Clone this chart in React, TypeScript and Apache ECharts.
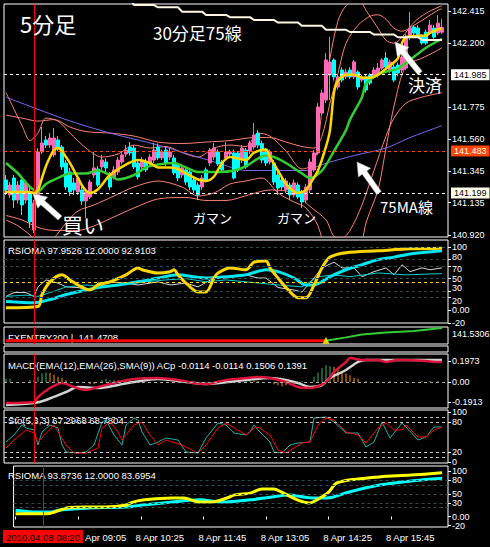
import React, { useEffect, useRef } from 'react';
import * as echarts from 'echarts';

const FONT = '"Liberation Sans", Arial, sans-serif';
const CJK = '"Noto Sans CJK JP", sans-serif';

// ---- time axis ----
const startMinutes = 7 * 60 + 45;
const barCount = 111;
const categories = Array.from({ length: barCount }, (_, i) => {
  const m = startMinutes + 5 * i;
  return `${String(Math.floor(m / 60)).padStart(2, '0')}:${String(m % 60).padStart(2, '0')}`;
});
const timeTickIdx = [16, 32, 48, 64, 80, 96];
const dateLabel = '8 Apr';
const cursorIdx = 7;
const cursorLabel = '2010.04.08 08:20';

// ---- price axis ----
const priceTicks = [142.415, 142.2, 141.775, 141.56, 141.345, 141.135, 140.92];
const bidPrice = 142.305;
const level1 = 141.985;
const level2 = 141.483;
const level3 = 141.199;

// ---- candles [open, close, low, high] ----
const candles = [
  [141.287,141.220,141.187,141.320],[141.187,141.253,141.167,141.273],[141.300,141.153,141.100,141.320],
  [141.153,141.253,141.130,141.280],[141.287,141.120,141.053,141.300],[141.153,141.267,141.130,141.287],
  [141.200,141.007,140.966,141.253],[140.953,141.133,140.933,141.153],[141.133,141.474,141.113,141.500],
  [141.474,141.534,141.460,141.641],[141.554,141.520,141.500,141.580],[141.520,141.567,141.500,141.600],
  [141.454,141.567,141.440,141.634],[141.554,141.500,141.480,141.580],[141.507,141.374,141.354,141.520],
  [141.400,141.240,141.220,141.420],[141.340,141.207,141.180,141.367],[141.267,141.220,141.187,141.300],
  [141.207,141.300,141.187,141.320],[141.220,141.147,141.120,141.240],[141.147,141.207,141.033,141.220],
  [141.173,141.273,141.160,141.290],[141.320,141.367,141.300,141.474],[141.360,141.253,141.240,141.380],
  [141.374,141.420,141.354,141.454],[141.407,141.367,141.340,141.430],[141.320,141.240,141.220,141.340],
  [141.307,141.354,141.290,141.380],[141.340,141.420,141.320,141.440],[141.407,141.454,141.390,141.480],
  [141.460,141.487,141.440,141.520],[141.507,141.467,141.450,141.540],[141.500,141.374,141.360,141.520],
  [141.400,141.307,141.290,141.420],[141.374,141.420,141.354,141.440],[141.407,141.354,141.340,141.430],
  [141.400,141.440,141.380,141.460],[141.420,141.487,141.400,141.534],[141.507,141.434,141.420,141.530],
  [141.434,141.474,141.420,141.490],[141.487,141.400,141.380,141.510],[141.440,141.474,141.420,141.500],
  [141.434,141.334,141.320,141.454],[141.387,141.300,141.280,141.400],[141.320,141.367,141.300,141.390],
  [141.354,141.273,141.253,141.370],[141.340,141.240,141.220,141.360],[141.287,141.220,141.200,141.300],
  [141.253,141.187,141.153,141.270],[141.240,141.300,141.220,141.320],[141.354,141.287,141.270,141.370],
  [141.400,141.487,141.380,141.500],[141.440,141.500,141.420,141.534],[141.474,141.394,141.380,141.490],
  [141.407,141.354,141.340,141.420],[141.434,141.474,141.420,141.540],[141.460,141.474,141.440,141.490],
  [141.467,141.300,141.290,141.490],[141.467,141.354,141.340,141.480],[141.420,141.500,141.400,141.520],
  [141.487,141.374,141.360,141.500],[141.480,141.534,141.460,141.550],[141.507,141.587,141.490,141.667],
  [141.600,141.520,141.500,141.620],[141.530,141.420,141.400,141.550],[141.487,141.400,141.380,141.500],
  [141.407,141.474,141.390,141.490],[141.400,141.273,141.253,141.420],[141.320,141.233,141.187,141.340],
  [141.287,141.240,141.220,141.300],[141.220,141.280,141.200,141.300],[141.253,141.187,141.153,141.270],
  [141.187,141.267,141.170,141.290],[141.253,141.173,141.160,141.270],[141.207,141.140,141.100,141.220],
  [141.153,141.240,141.130,141.260],[141.220,141.407,141.200,141.430],[141.354,141.467,141.340,141.487],
  [141.467,141.774,141.454,141.800],[141.734,141.867,141.720,141.890],[141.821,142.088,141.800,142.134],
  [141.988,142.075,141.821,142.241],[142.088,141.975,141.950,142.100],[141.908,141.975,141.890,141.990],
  [142.021,141.954,141.940,142.040],[141.975,142.008,141.960,142.030],[142.021,141.975,141.960,142.040],
  [141.975,142.075,141.960,142.088],[142.008,141.908,141.890,142.020],[141.954,141.975,141.940,141.990],
  [141.975,141.888,141.870,141.990],[141.988,141.934,141.920,142.000],[141.975,142.021,141.960,142.040],
  [141.988,142.034,141.970,142.068],[142.034,142.088,142.020,142.100],[142.101,142.041,142.020,142.141],
  [142.021,142.075,142.000,142.090],[142.041,141.954,141.940,142.060],[142.054,142.001,141.980,142.070],
  [142.021,142.108,142.000,142.120],[142.034,142.241,142.020,142.260],[142.241,142.301,142.220,142.408],
  [142.308,142.268,142.250,142.321],[142.301,142.255,142.240,142.320],[142.241,142.201,142.190,142.260],
  [142.274,142.201,142.190,142.290],[142.268,142.321,142.255,142.355],[142.301,142.241,142.230,142.320],
  [142.268,142.334,142.255,142.388],[142.274,142.305,142.260,142.361],
];

// ---- main panel lines [barIndex, value] ----
const maFast = [[0,141.207],[6,141.207],[7,141.200],[8,141.220],[9,141.300],[10,141.380],[11,141.440],[12,141.487],[13,141.500],[14,141.480],[15,141.440],[16,141.400],[17,141.350],[18,141.300],[19,141.250],[20,141.215],[21,141.200],[23,141.225],[26,141.320],[30,141.390],[33,141.420],[36,141.400],[38,141.370],[41,141.370],[43,141.360],[45,141.330],[48,141.290],[50,141.280],[52,141.310],[54,141.400],[56,141.440],[58,141.430],[60,141.420],[62,141.470],[65,141.490],[66,141.440],[68,141.350],[70,141.260],[71,141.230],[73,141.200],[75,141.220],[76,141.260],[78,141.350],[80,141.510],[81,141.620],[82,141.870],[83,141.950],[85,141.990],[87,141.990],[89,141.970],[91,141.970],[93,141.990],[95,142.030],[96,142.050],[98,142.100],[99,142.200],[100,142.240],[103,142.250],[105,142.250],[106,142.270],[109,142.300]];
const maMid = [[0,141.400],[3,141.330],[6,141.240],[8,141.210],[10,141.260],[13,141.300],[16,141.330],[20,141.330],[23,141.350],[26,141.320],[28,141.290],[32,141.320],[35,141.370],[38,141.390],[42,141.400],[45,141.370],[48,141.340],[53,141.340],[57,141.350],[60,141.380],[65,141.450],[67,141.440],[70,141.400],[74,141.330],[76,141.300],[79,141.350],[82,141.480],[85,141.620],[86,141.690],[89,141.840],[90,141.930],[93,141.990],[95,142.010],[98,142.030],[100,142.070],[103,142.130],[105,142.170],[109,142.230]];
const ma75 = [[0,141.840],[15,141.690],[26,141.600],[38,141.520],[53,141.400],[60,141.350],[75,141.350],[79,141.390],[87,141.450],[95,141.500],[101,141.570],[109,141.650]];
const ma30m75Steps = [[26,31,142.500],[32,37,142.455],[38,43,142.440],[44,49,142.411],[50,55,142.389],[56,61,142.374],[62,67,142.355],[68,73,142.338],[74,79,142.316],[80,85,142.290],[86,91,142.275],[92,97,142.258],[98,103,142.240],[104,109,142.222]];
const bandUpperA = [[0,141.72],[4,141.70],[8,141.68],[12,141.69],[16,141.64],[20,141.61],[26,141.60],[32,141.58],[38,141.54],[44,141.53],[50,141.54],[56,141.55],[62,141.57],[66,141.57],[70,141.54],[74,141.51],[77,141.50],[79,141.58],[81,141.80],[83,142.00],[85,142.20],[88,142.32],[91,142.38],[93,142.39],[95,142.36],[97,142.30],[99,142.28],[102,142.32],[105,142.37],[108,142.42],[109,142.43]];
const bandUpperB = [[0,141.87],[2,141.76],[4,141.65],[6,141.55],[8,141.60],[10,141.70],[13,141.68],[16,141.60],[20,141.50],[24,141.44],[28,141.46],[32,141.52],[36,141.50],[40,141.51],[44,141.47],[48,141.44],[52,141.50],[56,141.52],[60,141.51],[63,141.60],[66,141.58],[70,141.48],[74,141.36],[77,141.40],[79,141.75],[81,142.10],[83,142.35],[85,142.45],[88,142.50],[90,142.42],[93,142.30],[95,142.22],[97,142.20],[99,142.24],[102,142.34],[105,142.40],[108,142.44],[109,142.45]];
const bandLowerA = [[0,141.05],[4,141.02],[8,140.97],[12,140.95],[18,140.95],[22,140.98],[27,141.04],[32,141.10],[38,141.16],[45,141.17],[50,141.15],[55,141.15],[61,141.19],[66,141.22],[72,141.20],[76,141.11],[80,141.02],[82,140.91],[84,140.90],[86,140.95],[89,141.12],[92,141.35],[95,141.58],[97,141.70],[100,141.80],[104,141.84],[109,141.87]];
const bandLowerB = [[0,141.02],[3,140.98],[6,140.92],[9,140.85],[12,140.90],[15,141.00],[18,141.08],[22,141.12],[27,141.18],[32,141.24],[38,141.28],[44,141.24],[48,141.18],[52,141.20],[56,141.26],[60,141.28],[64,141.30],[68,141.20],[72,141.14],[75,141.10],[78,140.98],[80,140.80],[84,140.60],[88,140.75],[90,141.00],[93,141.22],[95,141.50],[97,141.78],[100,142.05],[104,142.10],[107,142.14],[109,142.17]];

// ---- RSIOMA ----
const rsiLabel = 'RSIOMA 97.9526 12.0000 92.9103';
const rsiTicks = [100, 80, 70, 50, 30, 20, 0, -20];
const rsiLevels = [100, 80, 70, 50, 30, 20];
const rsiSignalLevel = 45;
const rsiMain = [[0,4],[8,6],[9,25],[11,45],[14,56],[16,48],[18,40],[21,32],[23,40],[26,45],[30,56],[33,67],[34,64],[38,59],[41,61],[42,64],[43,56],[45,43],[48,29],[50,29],[52,51],[53,59],[56,67],[60,64],[62,76],[65,78],[66,67],[68,51],[70,36],[73,20],[75,20],[77,40],[79,67],[81,84],[85,91],[93,94],[101,97],[109,98]];
const rsiSignal = [[0,14],[7,12],[11,17],[15,25],[20,32],[23,36],[28,40],[33,45],[38,51],[43,56],[47,53],[50,51],[55,53],[60,56],[65,64],[68,61],[72,51],[75,40],[77,40],[81,53],[85,64],[89,72],[93,80],[97,84],[101,89],[109,94]];
const rsiThinCyan = [[0,22],[5,24],[8,22],[12,30],[15,37],[20,40],[25,37],[30,42],[35,45],[40,48],[45,50],[50,45],[55,48],[60,45],[68,40],[74,37],[78,53],[82,56],[86,53],[93,59],[100,56],[109,58]];
const rsiThinWhite = [[0,22],[2,28],[5,28],[7,22],[8,37],[10,48],[13,43],[15,37],[18,36],[21,32],[23,43],[26,45],[30,43],[33,40],[38,45],[41,40],[45,43],[48,37],[52,51],[55,51],[60,56],[63,51],[65,51],[68,36],[72,32],[74,29],[77,51],[79,67],[82,76],[84,67],[87,67],[89,53],[92,61],[95,67],[97,56],[99,72],[101,61],[104,67],[106,64],[109,67]];

// ---- FXENTRY200 ----
const fxLabel = 'FXENTRY200 |  141.4708';
const fxAxisText = '141.5306';
const fxSell = [[0,140.72],[80,140.72]];
const fxBuy = [[80,140.72],[85,140.92],[89,141.09],[95,141.20],[102,141.30],[109,141.47]];
const fxSignal = [[80,140.75]];

// ---- MACD ----
const macdLabel = 'MACD(EMA(12),EMA(26),SMA(9)) ACp -0.0114 -0.0114 0.1506 0.1391';
const macdTicks = [0.1973, 0, -0.1913];
const macdLine = [[0,-0.197],[7,-0.188],[8,-0.141],[11,-0.056],[14,-0.009],[17,-0.047],[20,-0.075],[23,-0.047],[27,-0.009],[32,0.028],[38,0.038],[43,0.019],[47,-0.009],[50,-0.019],[55,0.019],[60,0.038],[63,0.047],[66,0.038],[70,0],[73,-0.047],[76,-0.056],[80,0],[82,0.094],[85,0.188],[86,0.225],[89,0.207],[93,0.207],[95,0.188],[98,0.207],[100,0.207],[105,0.197],[108,0.188],[109,0.188]];
const macdSignalLine = [[0,-0.216],[7,-0.197],[10,-0.169],[15,-0.094],[18,-0.047],[23,-0.056],[28,-0.028],[32,0],[38,0.028],[45,0],[50,-0.019],[60,0.019],[66,0.038],[70,0.019],[73,-0.009],[76,-0.047],[79,-0.028],[81,0.038],[85,0.113],[88,0.188],[90,0.207],[95,0.207],[101,0.207],[109,0.207]];
const histRising = [[0,0.03],[1,0.03],[6,0.02],[7,0.02],[8,0.05],[9,0.08],[10,0.09],[24,0.02],[25,0.03],[26,0.02],[27,0.02],[60,0.01],[61,0.02],[74,0.01],[77,0.05],[78,0.09],[79,0.13],[80,0.16],[81,0.15],[100,0.01]];
const histFalling = [[11,0.085],[12,0.07],[13,0.05],[14,0.04],[15,0.02],[21,-0.02],[22,-0.02],[28,0.015],[29,0.01],[30,0.015],[31,0.01],[62,0.01],[63,0.01],[67,-0.02],[68,-0.03],[69,-0.04],[70,-0.03],[71,-0.02],[72,-0.02],[82,0.14],[83,0.12],[84,0.10],[85,0.08],[86,0.06],[87,0.04],[88,0.03],[90,0.01],[93,0.01],[96,0.01],[104,0.01],[106,0.01],[108,0.01]];

// ---- Stochastic ----
const stoLabel = 'Sto(5,3,3) 67.2968 68.7804';
const stoTicks = [100, 80, 20, 0];
const stoLevels = [90, 80, 20, 10];
const stoK = [[0,40],[2,54],[4,74],[5,68],[7,64],[8,34],[9,60],[11,74],[13,68],[14,34],[15,20],[18,18],[20,20],[22,34],[24,80],[25,84],[27,54],[29,34],[30,74],[32,88],[33,84],[34,60],[36,34],[38,40],[40,48],[43,44],[45,20],[48,18],[50,48],[53,78],[55,74],[57,58],[60,54],[61,60],[62,74],[63,64],[66,40],[67,20],[69,18],[71,34],[73,38],[76,40],[77,88],[80,90],[82,80],[85,58],[88,58],[90,30],[92,40],[94,80],[96,48],[99,78],[100,70],[103,44],[105,50],[107,70],[109,70]];
const stoD = [[0,28],[2,44],[5,64],[7,58],[8,40],[12,74],[13,60],[15,34],[17,18],[20,18],[23,28],[24,68],[26,80],[28,60],[29,44],[32,74],[34,80],[36,54],[38,34],[40,44],[44,34],[48,18],[50,34],[53,68],[55,78],[60,54],[62,68],[63,70],[66,54],[68,24],[70,18],[74,38],[76,40],[78,74],[80,88],[82,84],[85,60],[88,54],[90,38],[93,68],[95,78],[97,64],[99,64],[100,74],[103,50],[105,50],[107,64],[109,70]];

// ---- RSIOMA (2) ----
const rsi2Label = 'RSIOMA 93.8736 12.0000 83.6954';
const rsi2Ticks = [100, 80, 50, 30, 0, -20];
const rsi2Levels = [80, 70, 50, 30, 20];
const rsi2Main = [[0,6],[8,6],[10,10],[13,19],[18,21],[23,21],[28,25],[30,32],[33,37],[40,41],[43,41],[47,32],[50,32],[54,41],[56,48],[60,52],[63,61],[66,61],[68,54],[72,37],[75,30],[77,37],[80,54],[82,74],[87,83],[93,88],[101,92],[109,97]];
const rsi2Signal = [[0,14],[5,10],[9,10],[11,14],[19,19],[28,21],[33,26],[40,32],[47,37],[53,32],[60,37],[65,43],[70,48],[74,43],[77,41],[81,43],[85,54],[93,70],[101,79],[109,85]];

// ---- annotations ----
const notes = [
  { text: '5分足', x: 20, y: 23, size: 22 },
  { text: '30分足75線', x: 153, y: 32, size: 17 },
  { text: '買い', x: 62, y: 224, size: 21 },
  { text: 'ガマン', x: 193, y: 217, size: 13 },
  { text: 'ガマン', x: 277, y: 217, size: 13 },
  { text: '75MA線', x: 380, y: 206, size: 15 },
  { text: '決済', x: 408, y: 84, size: 17 },
];
const arrows = [
  { tail: [60, 218], tip: [33, 194] },
  { tail: [379, 193], tip: [357, 162] },
  { tail: [420, 73], tip: [395, 42] },
];

function arrowPoints(tail: number[], tip: number[], shaft = 2.8, head = 7.5, headLen = 13) {
  const dx = tip[0] - tail[0], dy = tip[1] - tail[1];
  const len = Math.hypot(dx, dy);
  const ux = dx / len, uy = dy / len;
  const px = -uy, py = ux;
  const bx = tip[0] - ux * headLen, by = tip[1] - uy * headLen;
  return [
    [tail[0] + px * shaft, tail[1] + py * shaft],
    [bx + px * shaft, by + py * shaft],
    [bx + px * head, by + py * head],
    [tip[0], tip[1]],
    [bx - px * head, by - py * head],
    [bx - px * shaft, by - py * shaft],
    [tail[0] - px * shaft, tail[1] - py * shaft],
  ];
}

const grids = [
  { top: 4, height: 233 },
  { top: 240, height: 83 },
  { top: 327, height: 17 },
  { top: 354, height: 54 },
  { top: 410, height: 53 },
  { top: 466, height: 61 },
];

const crossLine = { xAxis: categories[cursorIdx], lineStyle: { color: '#ff0000', width: 1, type: 'solid' }, label: { show: false } };

function xAxisFor(gridIndex: number) {
  return {
    type: 'category', gridIndex, data: categories, boundaryGap: true,
    axisLine: { show: false }, axisTick: { show: false }, axisLabel: { show: false }, splitLine: { show: false },
  };
}

const labelTok = { color: '#fff', fontSize: 9, fontFamily: FONT };
const nudgeRich = {
  u: { ...labelTok, padding: [0, 0, 6, 0] },
  d: { ...labelTok, padding: [6, 0, 0, 0] },
};

function yAxisFor(gridIndex: number, min: number, max: number, ticks: number[] | null, fmt: (v: number) => string) {
  return {
    type: 'value', gridIndex, position: 'right', min, max, scale: true,
    splitLine: { show: false }, axisLine: { show: false },
    axisTick: ticks ? { show: true, length: 3, lineStyle: { color: '#fff' }, customValues: ticks } : { show: false },
    axisLabel: ticks ? { show: true, customValues: ticks, ...labelTok, margin: 4, formatter: fmt, rich: nudgeRich } : { show: false },
  };
}

function line(data: any[], idx: number, color: string, width: number, extra: any = {}) {
  return {
    type: 'line', xAxisIndex: idx, yAxisIndex: idx, data, showSymbol: false, symbol: 'none', silent: true,
    lineStyle: { color, width }, itemStyle: { color }, ...extra,
  };
}

function levelLines(levels: number[], color: string) {
  return levels.map((v) => ({ yAxis: v, lineStyle: { color, width: 1, type: [3, 3] }, label: { show: false } }));
}

function priceBox(v: number, bg: string, fg: string, lineColor: string | null) {
  return {
    yAxis: v,
    lineStyle: lineColor ? { color: lineColor, width: 1, type: [3, 3] } : { opacity: 0 },
    label: {
      show: true, position: 'end', distance: 3, formatter: v.toFixed(3), color: fg, backgroundColor: bg,
      padding: [1, 3, 1, 3], fontSize: 9, fontFamily: FONT,
    },
  };
}

const rsiFmt = (v: number) => {
  const t = v === 0 ? '0.00' : String(v);
  if (v === 80 || v === 30) return `{u|${t}}`;
  if (v === 70 || v === 20) return `{d|${t}}`;
  return t;
};

const timeTok = { color: '#fff', fontSize: 9.5, fontFamily: FONT };

const white30 = ma30m75Steps.flatMap(([s, e, v]) => [[s, v], [e, v]]);

const option: any = {
  animation: false,
  backgroundColor: '#000',
  grid: grids.map((g) => ({ left: 4, width: 444, top: g.top, height: g.height, show: true, borderColor: '#fff', borderWidth: 1, backgroundColor: 'transparent' })),
  xAxis: [
    xAxisFor(0), xAxisFor(1), xAxisFor(2), xAxisFor(3), xAxisFor(4),
    {
      ...xAxisFor(5), position: 'bottom',
      axisTick: { show: true, length: 3, alignWithLabel: true, lineStyle: { color: '#fff' }, interval: (i: number) => i === 0 || timeTickIdx.includes(i) },
      axisLabel: {
        show: true, ...timeTok, margin: 5, align: 'center',
        interval: (i: number) => timeTickIdx.includes(i),
        formatter: (val: string, i: number) => (i === timeTickIdx[0] ? `{h|Apr ${val}}` : `{t|${dateLabel} ${val}}`),
        rich: { h: { ...timeTok, padding: [0, 0, 0, 55] }, t: { ...timeTok, padding: [0, 0, 0, 38] } },
      },
    },
    {
      ...xAxisFor(5), position: 'bottom',
      axisLabel: {
        show: true, margin: 3, align: 'center',
        interval: (i: number) => i === cursorIdx,
        formatter: () => `{c|${cursorLabel}}`,
        rich: { c: { backgroundColor: '#ff0000', color: '#000', padding: [2, 3, 1, 3], fontSize: 9.5, fontFamily: FONT } },
      },
    },
  ],
  yAxis: [
    yAxisFor(0, 140.906, 142.462, priceTicks, (v) => v.toFixed(3)),
    yAxisFor(1, -20, 111, rsiTicks, rsiFmt),
    yAxisFor(2, 140.53, 141.53, null, (v) => String(v)),
    yAxisFor(3, -0.244, 0.263, macdTicks, (v) => (v === 0 ? '0.00' : v.toFixed(4))),
    yAxisFor(4, -2, 104, stoTicks, (v) => String(v)),
    yAxisFor(5, -23.3, 112.2, rsi2Ticks, (v) => (v === 0 ? '0.00' : String(v))),
  ],
  series: [
    // main panel
    line(bandUpperA, 0, '#FA8072', 1, { z: 1, smooth: 0.3 }),
    line(bandUpperB, 0, '#FA8072', 1, { z: 1, smooth: 0.3 }),
    line(bandLowerA, 0, '#FA8072', 1, { z: 1, smooth: 0.3 }),
    line(bandLowerB, 0, '#FA8072', 1, { z: 1, smooth: 0.3 }),
    line(ma75, 0, '#7B68EE', 1, { z: 2, smooth: 0.3 }),
    {
      type: 'candlestick', xAxisIndex: 0, yAxisIndex: 0, data: candles, barWidth: 3, z: 3, silent: true,
      itemStyle: { color: '#FF69B4', color0: '#00FFFF', borderColor: '#FF69B4', borderColor0: '#00FFFF', borderWidth: 1 },
      markLine: {
        silent: true, symbol: ['none', 'none'],
        data: [
          priceBox(bidPrice, '#ffffff', '#000', null),
          priceBox(level1, '#ffffff', '#000', '#ffffff'),
          priceBox(level2, '#FF4500', '#fff', '#FF4500'),
          priceBox(level3, '#FFFFE8', '#000', '#ffffff'),
          crossLine,
        ],
      },
    },
    line(maMid, 0, '#32CD32', 2.5, { z: 4, smooth: 0.3 }),
    line(maFast, 0, '#FFD700', 2.5, { z: 5, smooth: 0.3 }),
    line(white30, 0, '#FFF5E1', 2, { z: 6 }),

    // RSIOMA
    line(rsiThinWhite, 1, '#D8D8D8', 1, {
      markLine: { silent: true, symbol: ['none', 'none'], data: [...levelLines(rsiLevels, '#2F4F4F'), ...levelLines([rsiSignalLevel], '#FFD700'), crossLine] },
    }),
    line(rsiThinCyan, 1, '#00CED1', 1),
    line(rsiSignal, 1, '#00E5EE', 3, { smooth: 0.3 }),
    line(rsiMain, 1, '#FFD700', 3, { smooth: 0.3 }),

    // FXENTRY200
    line(fxSell, 2, '#FF0000', 3, { markLine: { silent: true, symbol: ['none', 'none'], data: [crossLine] } }),
    line(fxBuy, 2, '#32CD32', 2),
    { type: 'scatter', xAxisIndex: 2, yAxisIndex: 2, data: fxSignal, symbol: 'triangle', symbolSize: 7, itemStyle: { color: '#FFFF00' }, silent: true, z: 5 },

    // MACD
    { type: 'bar', xAxisIndex: 3, yAxisIndex: 3, data: histRising, barWidth: 1, stack: 'hist', itemStyle: { color: '#3CB371' }, silent: true,
      markLine: { silent: true, symbol: ['none', 'none'], data: [...levelLines([0], '#A9A9A9'), crossLine] } },
    { type: 'bar', xAxisIndex: 3, yAxisIndex: 3, data: histFalling, barWidth: 1, stack: 'hist', itemStyle: { color: '#FF9900' }, silent: true },
    line(macdSignalLine, 3, '#D3D3D3', 2.5, { smooth: 0.3 }),
    line(macdLine, 3, '#DC143C', 2.5, { smooth: 0.3 }),

    // Stochastic
    line(stoK, 4, '#20B2AA', 1, { markLine: { silent: true, symbol: ['none', 'none'], data: [...levelLines(stoLevels, '#C8C8C8'), crossLine] } }),
    line(stoD, 4, '#FF0000', 1),

    // RSIOMA 2
    line(rsi2Signal, 5, '#00FFFF', 3, { smooth: 0.3, markLine: { silent: true, symbol: ['none', 'none'], data: [...levelLines(rsi2Levels, '#2F4F4F'), crossLine] } }),
    line(rsi2Main, 5, '#FFFF00', 3, { smooth: 0.3 }),
  ],
  graphic: [
    { type: 'rect', shape: { x: 4, y: 346, width: 444, height: 6 }, style: { fill: 'none', stroke: '#fff', lineWidth: 1 }, silent: true },
    ...[
      { t: rsiLabel, y: 250 },
      { t: fxLabel, y: 337 },
      { t: macdLabel, y: 365 },
      { t: stoLabel, y: 420 },
      { t: rsi2Label, y: 475 },
    ].map((l) => ({ type: 'text', x: 8, y: l.y, silent: true, style: { text: l.t, fill: '#fff', font: `9.5px ${FONT}`, verticalAlign: 'middle', align: 'left' } })),
    { type: 'text', x: 452, y: 334, silent: true, style: { text: fxAxisText, fill: '#fff', font: `9px ${FONT}`, verticalAlign: 'middle', align: 'left' } },
    ...arrows.map((a) => ({ type: 'polygon', silent: true, z: 50, shape: { points: arrowPoints(a.tail, a.tip) }, style: { fill: '#fff', stroke: '#bbb', lineWidth: 0.5 } })),
    ...notes.map((n) => ({ type: 'text', x: n.x, y: n.y, z: 50, silent: true, style: { text: n.text, fill: '#fff', font: `${n.size}px ${CJK}`, verticalAlign: 'middle', align: 'left' } })),
  ],
};

export default function App() {
  const ref = useRef<HTMLDivElement>(null);
  useEffect(() => {
    document.body.style.margin = '0';
    document.body.style.background = '#000';
    const chart = echarts.init(ref.current!, null, { renderer: 'svg' });
    chart.setOption(option);
    return () => chart.dispose();
  }, []);
  return <div ref={ref} style={{ position: 'absolute', left: 0, top: 0, width: 490, height: 547, background: '#000' }} />;
}
